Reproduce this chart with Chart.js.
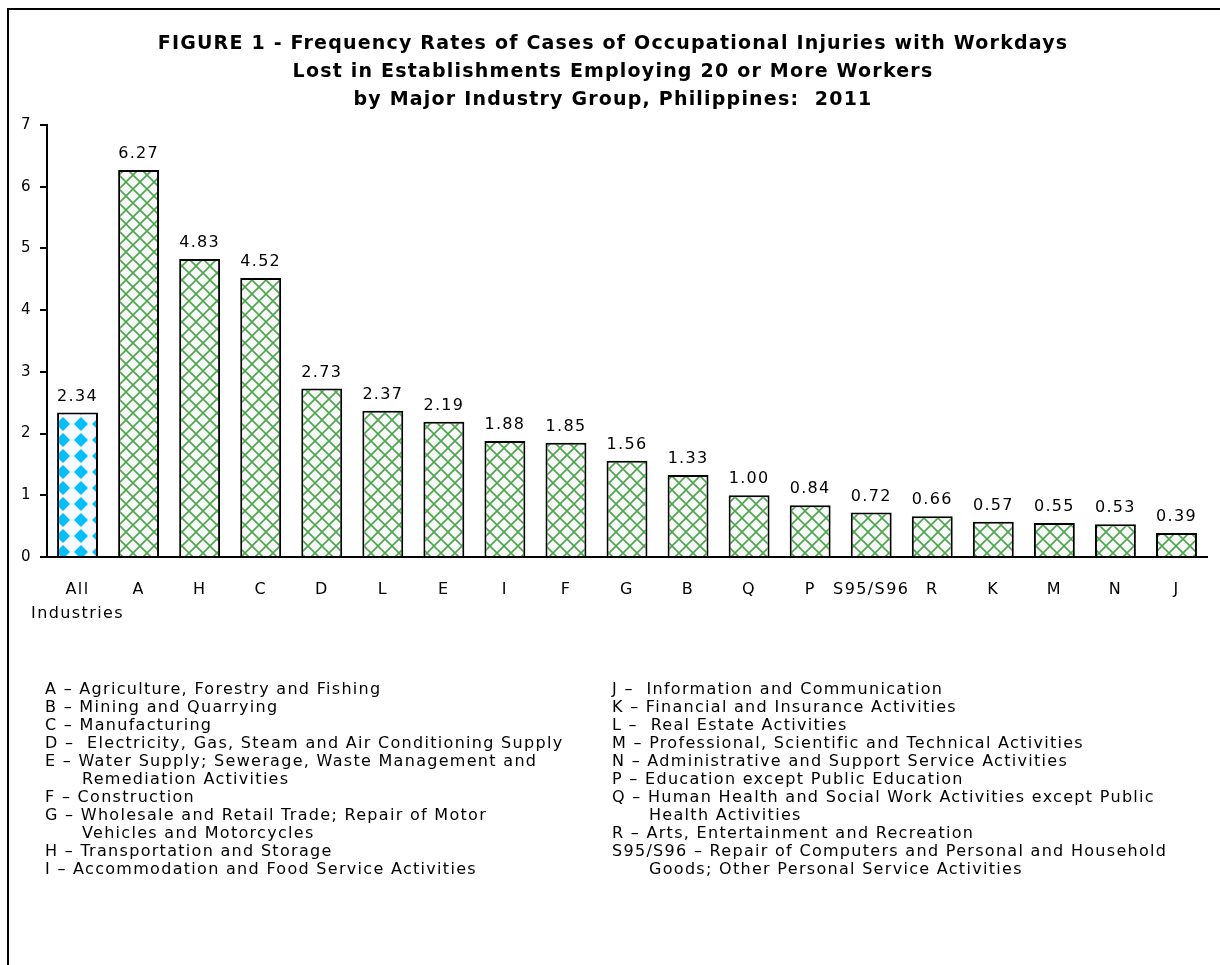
<!DOCTYPE html>
<html><head><meta charset="utf-8">
<script src="https://cdn.jsdelivr.net/npm/chart.js@4.4.1/dist/chart.umd.min.js"></script>
<style>
html,body{margin:0;padding:0;background:#fff;}
#wrap{position:relative;width:1220px;height:965px;overflow:hidden;background:#fff;}
#frame{position:absolute;left:7px;top:8px;width:1400px;height:1200px;border-left:2px solid #000;border-top:2px solid #000;}
#c{position:absolute;left:0;top:0;}
.col{position:absolute;top:680px;font-family:"DejaVu Sans";font-size:16px;line-height:18px;color:#000;letter-spacing:1.3px;white-space:pre;}
.col .ind{padding-left:37px;}
</style></head>
<body>
<div id="wrap">
<div id="frame"></div>
<canvas id="c" width="1220" height="965"></canvas>
<div class="col" id="legL" style="left:45px"></div>
<div class="col" id="legR" style="left:612px"></div>
</div>
<script>
const titleLines = [
  "FIGURE 1 - Frequency Rates of Cases of Occupational Injuries with Workdays",
  "Lost in Establishments Employing 20 or More Workers",
  "by Major Industry Group, Philippines:  2011"
];
const categories = [["All","Industries"],"A","H","C","D","L","E","I","F","G","B","Q","P","S95/S96","R","K","M","N","J"];
const rates = [2.34,6.27,4.83,4.52,2.73,2.37,2.19,1.88,1.85,1.56,1.33,1.00,0.84,0.72,0.66,0.57,0.55,0.53,0.39];
const yTicks = [0,1,2,3,4,5,6,7];
const legendLeft = [
  ["A – Agriculture, Forestry and Fishing"],
  ["B – Mining and Quarrying"],
  ["C – Manufacturing"],
  ["D –  Electricity, Gas, Steam and Air Conditioning Supply"],
  ["E – Water Supply; Sewerage, Waste Management and","Remediation Activities"],
  ["F – Construction"],
  ["G – Wholesale and Retail Trade; Repair of Motor","Vehicles and Motorcycles"],
  ["H – Transportation and Storage"],
  ["I – Accommodation and Food Service Activities"]
];
const legendRight = [
  ["J –  Information and Communication"],
  ["K – Financial and Insurance Activities"],
  ["L –  Real Estate Activities"],
  ["M – Professional, Scientific and Technical Activities"],
  ["N – Administrative and Support Service Activities"],
  ["P – Education except Public Education"],
  ["Q – Human Health and Social Work Activities except Public","Health Activities"],
  ["R – Arts, Entertainment and Recreation"],
  ["S95/S96 – Repair of Computers and Personal and Household","Goods; Other Personal Service Activities"]
];

function fillLegend(el, items){
  items.forEach(lines=>{
    lines.forEach((t,i)=>{
      const d=document.createElement('div');
      d.textContent=t;
      if(i>0) d.className='ind';
      el.appendChild(d);
    });
  });
}
fillLegend(document.getElementById('legL'), legendLeft);
fillLegend(document.getElementById('legR'), legendRight);

function greenPattern(){
  const s=14, cv=document.createElement('canvas'); cv.width=s; cv.height=s;
  const g=cv.getContext('2d');
  g.fillStyle='#f9f8f9'; g.fillRect(0,0,s,s);
  g.strokeStyle='#4aa84a'; g.lineWidth=1.6;
  g.beginPath(); g.moveTo(-2,-2); g.lineTo(s+2,s+2); g.moveTo(s+2,-2); g.lineTo(-2,s+2); g.stroke();
  return g.createPattern(cv,'repeat');
}
function bluePattern(){
  const w=18,h=16, cv=document.createElement('canvas'); cv.width=w; cv.height=h;
  const g=cv.getContext('2d');
  g.fillStyle='#f7f8ff'; g.fillRect(0,0,w,h);
  g.fillStyle='#00c0ff';
  g.beginPath(); g.moveTo(9,1); g.lineTo(16,8); g.lineTo(9,15); g.lineTo(2,8); g.closePath(); g.fill();
  return g.createPattern(cv,'repeat');
}
const gp=greenPattern(), bp=bluePattern();

const spacingPlugin={id:'spacing',beforeDraw(chart){chart.ctx.letterSpacing='1.4px';}};
const textPlugin={
  id:'texts',
  afterDatasetsDraw(chart){
    const ctx=chart.ctx; const meta=chart.getDatasetMeta(0);
    ctx.save();
    ctx.letterSpacing='1.3px';
    ctx.font='16px "DejaVu Sans"'; ctx.fillStyle='#000'; ctx.textAlign='center'; ctx.textBaseline='alphabetic';
    meta.data.forEach((bar,i)=>{ ctx.fillText(rates[i].toFixed(2), bar.x, bar.y-12); });
    ctx.letterSpacing='1.2px';
    ctx.font='bold 19px "DejaVu Sans"'; ctx.textBaseline='middle';
    titleLines.forEach((t,i)=>{ ctx.fillText(t, 613, 44+i*28); });
    ctx.restore();
  }
};

new Chart(document.getElementById('c'),{
  type:'bar',
  data:{labels:categories,datasets:[{
    data:rates,
    backgroundColor:rates.map((v,i)=>i===0?bp:gp),
    borderColor:'#000',borderWidth:2,
    categoryPercentage:1,barPercentage:0.67
  }]},
  options:{
    responsive:false,animation:false,devicePixelRatio:1,
    layout:{padding:{left:0,right:13,top:125,bottom:328}},
    plugins:{legend:{display:false},tooltip:{enabled:false},title:{display:false}},
    scales:{
      x:{
        grid:{display:false},
        border:{display:true,color:'#000',width:2},
        ticks:{color:'#000',font:{family:'"DejaVu Sans"',size:16,lineHeight:1.5},padding:13,maxRotation:0,autoSkip:false},
        afterFit(s){s.height=80;}
      },
      y:{
        min:0,max:7,
        afterBuildTicks(s){s.ticks=yTicks.map(v=>({value:v}));},
        grid:{drawOnChartArea:false,color:'#000',lineWidth:2,tickLength:7},
        border:{display:true,color:'#000',width:2},
        ticks:{color:'#000',font:{family:'"DejaVu Sans"',size:15},padding:8},
        afterFit(s){s.width=47;}
      }
    }
  },
  plugins:[spacingPlugin,textPlugin]
});
</script>
</body></html>
